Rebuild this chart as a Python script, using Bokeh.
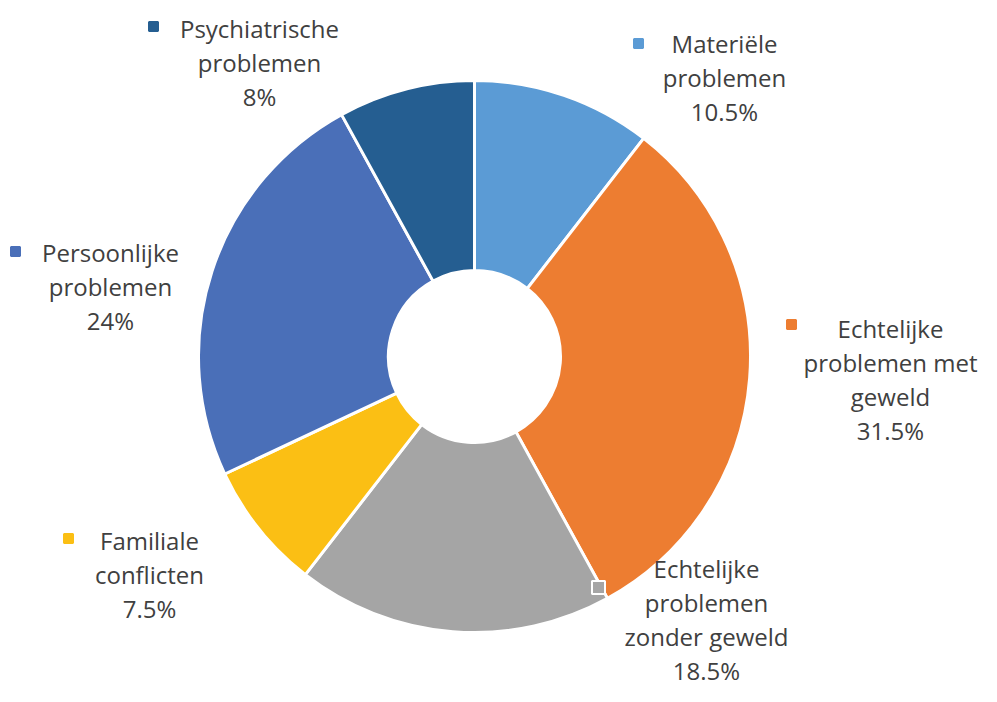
import math
from bokeh.plotting import figure
from bokeh.models import Range1d, ColumnDataSource
from bokeh.embed import file_html
from bokeh.resources import INLINE
from bokeh.core.properties import value

# ---- data ----
categories = ["Materiële\nproblemen",
              "Echtelijke\nproblemen met\ngeweld",
              "Echtelijke\nproblemen\nzonder geweld",
              "Familiale\nconflicten",
              "Persoonlijke\nproblemen",
              "Psychiatrische\nproblemen"]
values = [10.5, 31.5, 18.5, 7.5, 24, 8]
pct_labels = ["10.5%", "31.5%", "18.5%", "7.5%", "24%", "8%"]
colors = ["#5B9BD5", "#ED7D31", "#A5A5A5", "#FBBF14", "#4A6FB8", "#255E91"]

# ---- layout (picture pixel coordinates, y downwards) ----
W, H = 981, 686
def X(xi): return xi
def Y(yi): return H - yi

cx, cy = X(474), Y(356)
r_out, r_in = 276, 86
label_pos = [(724, 77), (890, 379), (706, 619), (149, 574), (110, 286), (259, 62)]
marker_pos = [(638, 43), (791, 324), (598, 587), (68, 538), (15, 251), (153, 26)]

total = sum(values)
starts, ends = [], []
cum = 0.0
for v in values:
    starts.append(math.pi / 2 - 2 * math.pi * cum / total)
    cum += v
    ends.append(math.pi / 2 - 2 * math.pi * cum / total)

src = ColumnDataSource(dict(start=starts, end=ends, color=colors))

p = figure(width=W, height=H, output_backend="svg", toolbar_location=None,
           x_range=Range1d(0, W), y_range=Range1d(0, H), min_border=0)
p.axis.visible = False
p.grid.visible = False
p.outline_line_color = None
p.background_fill_color = "white"

p.annular_wedge(x=cx, y=cy, inner_radius=r_in, outer_radius=r_out,
                start_angle="start", end_angle="end", direction="clock",
                fill_color="color", line_color="white", line_width=3, source=src)

texts = [c + "\n" + t for c, t in zip(categories, pct_labels)]
lsrc = ColumnDataSource(dict(x=[X(a) for a, b in label_pos], y=[Y(b) for a, b in label_pos], text=texts))
p.text(x="x", y="y", text="text", source=lsrc, text_align="center", text_baseline="middle",
       text_font=value("Open Sans"), text_font_size="24px", text_color="#404040",
       text_line_height=1.03)

msrc = ColumnDataSource(dict(x=[X(a) for a, b in marker_pos], y=[Y(b) for a, b in marker_pos],
                             color=colors,
                             lc=["white" if i == 2 else c for i, c in enumerate(colors)],
                             sz=[13 if i == 2 else 9 for i in range(len(colors))]))
p.scatter(x="x", y="y", marker="square", size="sz", fill_color="color", line_color="lc",
          line_width=2, source=msrc)

open("out.html", "w").write(file_html(p, INLINE))
